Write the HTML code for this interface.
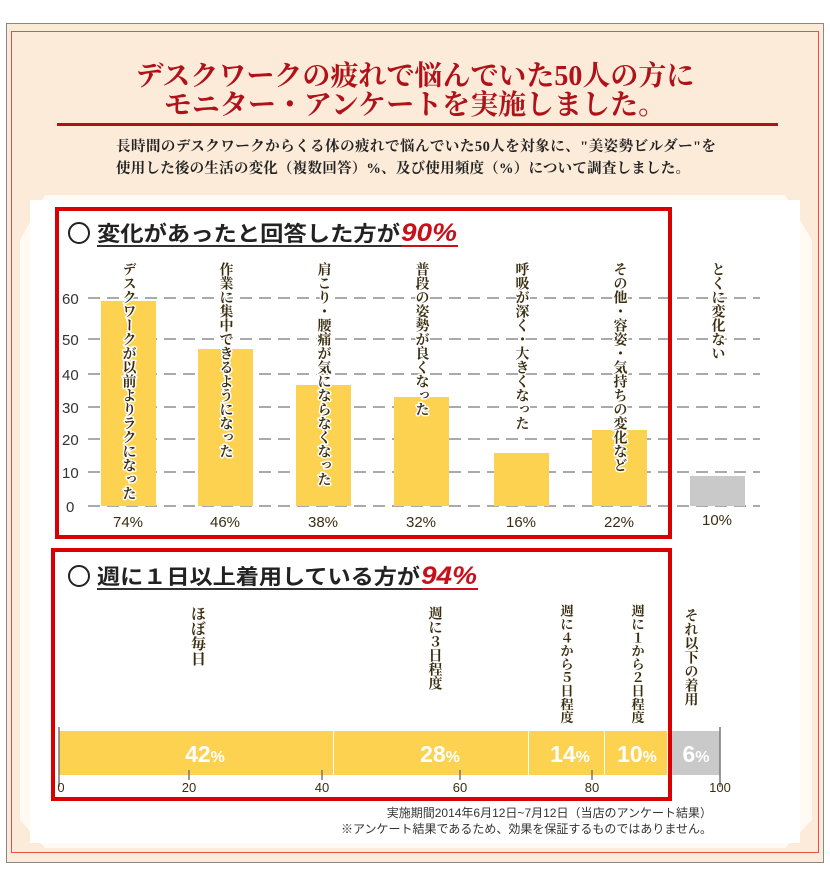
<!DOCTYPE html>
<html><head><meta charset="utf-8"><style>
html,body{margin:0;padding:0;background:#fff;}
body{width:830px;height:883px;overflow:hidden;position:relative;}
svg text{font-family:"Liberation Serif","Noto Serif CJK SC","Noto Sans CJK JP",serif;}
.s{font-family:"Liberation Sans","Noto Sans CJK JP",sans-serif !important;}
.v{writing-mode:tb;glyph-orientation-vertical:0;}
</style></head><body>
<svg width="830" height="883" viewBox="0 0 830 883" xmlns="http://www.w3.org/2000/svg">
<rect x="6.5" y="23.5" width="817" height="839" fill="#fcebd9" stroke="#888" stroke-width="1"/>
<rect x="11.5" y="31.5" width="807" height="821" fill="none" stroke="#e8504a" stroke-width="1"/>
<polygon points="45,195 785,195 812,240 812,820 785,848 45,848 20,820 20,240" fill="#fffaf3"/>
<rect x="30" y="200" width="770" height="643" fill="#fff"/>
<text x="415" y="85" text-anchor="middle" font-size="28" font-weight="bold" fill="#b0121a">デスクワークの疲れで悩んでいた50人の方に</text>
<text x="415" y="114" text-anchor="middle" font-size="28" font-weight="bold" fill="#b0121a">モニター・アンケートを実施しました。</text>
<rect x="57" y="123" width="721" height="3" fill="#b0121a"/>
<text x="116" y="151" font-size="14.5" font-weight="bold" fill="#222" textLength="600">長時間のデスクワークからくる体の疲れで悩んでいた50人を対象に、"美姿勢ビルダー"を</text>
<text x="116" y="173" font-size="14.5" font-weight="bold" fill="#222" textLength="574">使用した後の生活の変化（複数回答）%、及び使用頻度（%）について調査しました。</text>

<g stroke="#aaa" stroke-width="2" stroke-dasharray="12,7">
<line x1="88" y1="298" x2="760" y2="298"/><line x1="88" y1="339" x2="760" y2="339"/>
<line x1="88" y1="374" x2="760" y2="374"/><line x1="88" y1="407" x2="760" y2="407"/>
<line x1="88" y1="439" x2="760" y2="439"/><line x1="88" y1="472" x2="760" y2="472"/>
<line x1="88" y1="506" x2="760" y2="506"/>
</g>
<g class="s" font-size="15" fill="#333">
<text class="s" x="62" y="304">60</text><text class="s" x="62" y="345">50</text><text class="s" x="62" y="380">40</text><text class="s" x="62" y="413">30</text><text class="s" x="62" y="445">20</text><text class="s" x="62" y="478">10</text><text class="s" x="66" y="512">0</text>
</g>
<g fill="#fdd250">
<rect x="101" y="301" width="55" height="205"/>
<rect x="198" y="349" width="55" height="157"/>
<rect x="296" y="385" width="55" height="121"/>
<rect x="394" y="397" width="55" height="109"/>
<rect x="494" y="453" width="55" height="53"/>
<rect x="592" y="430" width="55" height="76"/>
</g>
<rect x="690" y="476" width="55" height="30" fill="#c9c9c9"/>
<g font-size="15" text-anchor="middle" fill="#3a2d10" class="s">
<text class="s" x="128" y="527">74%</text><text class="s" x="225" y="527">46%</text><text class="s" x="323" y="527">38%</text><text class="s" x="421" y="527">32%</text><text class="s" x="521" y="527">16%</text><text class="s" x="619" y="527">22%</text><text class="s" x="717" y="525">10%</text>
</g>
<g font-size="14" font-weight="bold" fill="#3a2d10" stroke="#fff" stroke-width="3" paint-order="stroke">
<text class="v" x="128" y="262">デスクワークが以前よりラクになった</text>
<text class="v" x="225" y="262">作業に集中できるようになった</text>
<text class="v" x="323" y="262">肩こり・腰痛が気にならなくなった</text>
<text class="v" x="421" y="262">普段の姿勢が良くなった</text>
<text class="v" x="521" y="262">呼吸が深く・大きくなった</text>
<text class="v" x="619" y="262">その他・容姿・気持ちの変化など</text>
<text class="v" x="717" y="262">とくに変化ない</text>
</g>
<rect x="57" y="209" width="613" height="328" fill="none" stroke="#d80000" stroke-width="4"/>
<circle cx="79" cy="233" r="10" fill="none" stroke="#222" stroke-width="2"/>
<text x="97" y="241" font-size="21" font-weight="bold" fill="#222" class="s" textLength="303" lengthAdjust="spacingAndGlyphs">変化があったと回答した方が</text>
<text x="401" y="241" font-size="25" font-weight="bold" font-style="italic" fill="#c8101a" class="s" textLength="56" lengthAdjust="spacingAndGlyphs">90%</text>
<rect x="97" y="245" width="305" height="2" fill="#333"/><rect x="402" y="245" width="56" height="2" fill="#c8101a"/>

<g font-size="15" font-weight="bold" fill="#3a2d10">
<text class="v" x="197" y="606">ほぼ毎日</text>
<text class="v" x="434" y="606" font-size="14">週に３日程度</text>
<text class="v" x="566" y="604" font-size="13.3">週に４から５日程度</text>
<text class="v" x="637" y="604" font-size="13.3">週に１から２日程度</text>
<text class="v" x="690" y="608" font-size="14">それ以下の着用</text>
</g>
<rect x="59" y="731" width="608" height="44" fill="#fdd250"/>
<rect x="672" y="731" width="48" height="44" fill="#c9c9c9"/>
<g fill="#fff"><rect x="333" y="731" width="1" height="44"/><rect x="528" y="731" width="1" height="44"/><rect x="604" y="731" width="1" height="44"/></g>
<g stroke="#777" stroke-width="1.5">
<line x1="59" y1="727" x2="59" y2="787"/><line x1="720" y1="727" x2="720" y2="787"/>
<line x1="189" y1="770" x2="189" y2="780"/><line x1="322" y1="770" x2="322" y2="780"/><line x1="460" y1="770" x2="460" y2="780"/><line x1="592" y1="770" x2="592" y2="780"/>
</g>
<g font-size="13" fill="#3a2d10" text-anchor="middle" class="s">
<text class="s" x="61" y="792">0</text><text class="s" x="189" y="792">20</text><text class="s" x="322" y="792">40</text><text class="s" x="460" y="792">60</text><text class="s" x="592" y="792">80</text><text class="s" x="720" y="792">100</text>
</g>
<g fill="#fff" font-weight="bold" font-size="23" text-anchor="middle" class="s">
<text class="s" x="205" y="762">42<tspan font-size="16">%</tspan></text>
<text class="s" x="440" y="762">28<tspan font-size="16">%</tspan></text>
<text class="s" x="570" y="762">14<tspan font-size="16">%</tspan></text>
<text class="s" x="637" y="762">10<tspan font-size="16">%</tspan></text>
<text class="s" x="696" y="762">6<tspan font-size="16">%</tspan></text>
</g>
<rect x="53" y="550" width="617" height="249" fill="none" stroke="#d80000" stroke-width="4"/>
<circle cx="79" cy="576" r="10" fill="none" stroke="#222" stroke-width="2"/>
<text x="97" y="584" font-size="21" font-weight="bold" fill="#222" class="s" textLength="323" lengthAdjust="spacingAndGlyphs">週に１日以上着用している方が</text>
<text x="421" y="584" font-size="25" font-weight="bold" font-style="italic" fill="#c8101a" class="s" textLength="56" lengthAdjust="spacingAndGlyphs">94%</text>
<rect x="97" y="588" width="325" height="2" fill="#333"/><rect x="422" y="588" width="56" height="2" fill="#c8101a"/>

<text x="712" y="817" text-anchor="end" font-size="12" fill="#333" class="s">実施期間2014年6月12日~7月12日（当店のアンケート結果）</text>
<text x="712" y="833" text-anchor="end" font-size="12" fill="#333" class="s">※アンケート結果であるため、効果を保証するものではありません。</text>
</svg>
</body></html>
